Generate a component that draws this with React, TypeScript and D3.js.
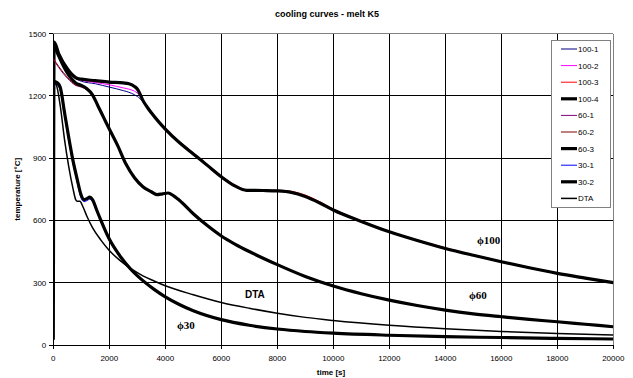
import React from "react";
import * as d3 from "d3";

const xTicks = [0, 2000, 4000, 6000, 8000, 10000, 12000, 14000, 16000, 18000, 20000];
const yTicks = [0, 300, 600, 900, 1200, 1500];

const legendNames = ["100-1", "100-2", "100-3", "100-4", "60-1", "60-2", "60-3", "30-1", "30-2", "DTA"];

// phi 100 group
const t100 = [0, 30, 200, 500, 800, 1000, 1500, 2000, 2500, 2700, 2900, 3000, 3100, 3200, 3350, 3500, 3750, 4000, 4500, 5000, 5500, 6000, 6500, 6900, 7500, 8000, 8500, 9000, 9500, 10000, 11000, 12000, 13000, 14000, 15000, 16000, 17000, 18000, 19000, 20000];
const s100_1 = [1440, 1440, 1385, 1320, 1282, 1270, 1258, 1242, 1225, 1217, 1205, 1197, 1186, 1170, 1142, 1114, 1074, 1036, 973, 918, 863, 808, 763, 744, 742, 740, 733, 713, 683, 648, 593, 543, 501, 463, 430, 399, 370, 343, 320, 298];
const s100_2 = [1445, 1445, 1392, 1325, 1285, 1275, 1264, 1253, 1238, 1232, 1222, 1213, 1199, 1175, 1145, 1117, 1076, 1038, 975, 920, 865, 810, 765, 745, 743, 741, 734, 714, 684, 649, 594, 544, 502, 464, 431, 400, 371, 344, 321, 299];
const s100_3 = [1450, 1450, 1396, 1328, 1287, 1278, 1270, 1263, 1263, 1259, 1247, 1236, 1213, 1183, 1152, 1124, 1083, 1045, 981, 926, 871, 815, 770, 748, 746, 745, 740, 722, 691, 655, 598, 548, 506, 468, 434, 403, 374, 347, 324, 302];
const s100_4 = [25, 1458, 1400, 1330, 1288, 1280, 1273, 1266, 1262, 1258, 1245, 1233, 1208, 1178, 1146, 1118, 1077, 1040, 975, 920, 865, 810, 765, 745, 744, 742, 735, 715, 685, 650, 595, 545, 503, 465, 432, 401, 372, 345, 322, 300];

// phi 60 group
const t60 = [0, 200, 500, 800, 1000, 1200, 1400, 1600, 1800, 2000, 2300, 2600, 2900, 3200, 3500, 3700, 3900, 4100, 4300, 4600, 5000, 5500, 6000, 6500, 7000, 8000, 9000, 10000, 11000, 12000, 13000, 14000, 15000, 16000, 17000, 18000, 19000, 20000];
const s60_1 = [1375, 1335, 1285, 1250, 1242, 1228, 1200, 1147, 1092, 1037, 958, 868, 803, 760, 736, 722, 726, 730, 716, 683, 630, 573, 523, 483, 448, 385, 328, 282, 245, 214, 188, 166, 148, 134, 121, 110, 98, 86];
const s60_2 = [1380, 1340, 1290, 1252, 1244, 1230, 1202, 1148, 1093, 1038, 959, 869, 804, 761, 737, 723, 727, 731, 717, 684, 631, 574, 524, 484, 449, 386, 329, 283, 246, 215, 189, 167, 149, 135, 122, 111, 99, 87];
const s60_3 = [1455, 1390, 1310, 1262, 1250, 1234, 1205, 1150, 1095, 1040, 960, 870, 805, 762, 738, 724, 728, 732, 718, 685, 632, 575, 525, 485, 450, 387, 330, 284, 247, 216, 190, 168, 150, 136, 123, 112, 100, 88];

// phi 30 group
const t30 = [50, 150, 250, 400, 550, 700, 850, 1000, 1100, 1200, 1300, 1400, 1550, 1700, 2000, 2400, 2800, 3200, 3600, 4000, 4500, 5000, 6000, 7000, 8000, 9000, 10000, 12000, 14000, 16000, 18000, 20000];
const s30_1 = [1255, 1250, 1225, 1105, 985, 875, 785, 705, 690, 695, 702, 690, 642, 592, 503, 419, 355, 305, 264, 229, 192, 162, 120, 93, 75, 63, 55, 45, 39, 35, 33, 31];
const s30_2 = [1268, 1262, 1240, 1120, 1000, 890, 800, 720, 700, 705, 712, 700, 650, 600, 510, 425, 360, 310, 268, 232, 195, 165, 122, 95, 77, 65, 57, 47, 40, 36, 32, 29];

// DTA
const tDTA = [0, 100, 250, 400, 550, 700, 800, 850, 950, 1050, 1200, 1400, 1700, 2000, 2400, 2800, 3200, 3600, 4000, 5000, 6000, 7000, 8000, 9000, 10000, 12000, 14000, 16000, 18000, 20000];
const sDTA = [1265, 1255, 1150, 990, 860, 755, 700, 692, 692, 668, 620, 565, 505, 455, 405, 365, 333, 308, 285, 242, 205, 177, 153, 133, 118, 95, 78, 65, 55, 48];

const seriesColors = ["#000080", "#FF00FF", "#FF0000", "#000000", "#800080", "#800000", "#000000", "#0000FF", "#000000", "#000000"];
const seriesWidths = [1, 1, 1, 3.2, 1, 1, 3.2, 1, 3.2, 1.5];

const W = 633, H = 378;
const left = 53.3, right = 613.3, top = 33.5, bottom = 345;

export default function App() {
  const x = d3.scaleLinear().domain([0, 20000]).range([left, right]);
  const y = d3.scaleLinear().domain([0, 1500]).range([bottom, top]);
  const line = d3.line<[number, number]>().x(d => x(d[0])).y(d => y(d[1])).curve(d3.curveMonotoneX);

  const pairs = (ts: number[], vs: number[]) => ts.map((t, i) => [t, vs[i]] as [number, number]);
  const data = [
    pairs(t100, s100_1), pairs(t100, s100_2), pairs(t100, s100_3), pairs(t100, s100_4),
    pairs(t60, s60_1), pairs(t60, s60_2), pairs(t60, s60_3),
    pairs(t30, s30_1), pairs(t30, s30_2), pairs(tDTA, sDTA),
  ];

  const legX = 551, legY = 40, legW = 59, legStep = 16.6;

  return (
    <svg width={W} height={H} style={{ position: "absolute", left: 0, top: 0, fontFamily: "'Liberation Sans', Arial, sans-serif" }}>
      <rect x={0} y={0} width={W} height={H} fill="#fff" />
      <text x={327} y={17} textAnchor="middle" fontSize={9} fontWeight="bold">cooling curves - melt K5</text>
      {xTicks.slice(1).map(t => (
        <line key={"gx" + t} x1={x(t)} x2={x(t)} y1={top} y2={bottom} stroke="#000" strokeWidth={1} shapeRendering="crispEdges" />
      ))}
      {yTicks.slice(1).map(v => (
        <line key={"gy" + v} x1={left} x2={right} y1={y(v)} y2={y(v)} stroke={v === 1500 ? "#808080" : "#000"} strokeWidth={1} shapeRendering="crispEdges" />
      ))}
      <line x1={right} x2={right} y1={top} y2={bottom} stroke="#808080" shapeRendering="crispEdges" />
      <line x1={left} x2={left} y1={top} y2={bottom} stroke="#000" shapeRendering="crispEdges" />
      <line x1={left} x2={right} y1={bottom} y2={bottom} stroke="#000" shapeRendering="crispEdges" />
      {yTicks.map(v => (
        <g key={"yt" + v}>
          <line x1={left - 4} x2={left} y1={y(v)} y2={y(v)} stroke="#000" shapeRendering="crispEdges" />
          <text x={left - 7} y={y(v) + 3} textAnchor="end" fontSize={8}>{v}</text>
        </g>
      ))}
      {xTicks.map(t => (
        <g key={"xt" + t}>
          <line x1={x(t)} x2={x(t)} y1={bottom} y2={bottom + 4} stroke="#000" shapeRendering="crispEdges" />
          <text x={x(t)} y={bottom + 16} textAnchor="middle" fontSize={8}>{t}</text>
        </g>
      ))}
      <text x={331} y={375} textAnchor="middle" fontSize={8} fontWeight="bold">time [s]</text>
      <text transform={`translate(20,${(top + bottom) / 2}) rotate(-90)`} textAnchor="middle" fontSize={8} fontWeight="bold">temperature [°C]</text>
      <defs>
        <clipPath id="clip"><rect x={left} y={top - 2} width={right - left} height={bottom - top + 2} /></clipPath>
      </defs>
      <g clipPath="url(#clip)">
        {data.map((d, i) => (
          <path key={"s" + i} d={line(d) || ""} fill="none" stroke={seriesColors[i]} strokeWidth={seriesWidths[i]} strokeLinejoin="round" />
        ))}
      </g>
      <text x={477} y={244} fontSize={11} fontWeight="bold" fontFamily="'Liberation Serif', serif">ϕ100</text>
      <text x={469} y={299} fontSize={11} fontWeight="bold" fontFamily="'Liberation Serif', serif">ϕ60</text>
      <text x={245} y={298} fontSize={10} fontWeight="bold">DTA</text>
      <text x={177} y={329} fontSize={11} fontWeight="bold" fontFamily="'Liberation Serif', serif">ϕ30</text>
      <rect x={legX} y={legY} width={legW} height={167} fill="#fff" stroke="#808080" strokeWidth={1} shapeRendering="crispEdges" />
      {legendNames.map((n, i) => (
        <g key={"lg" + n}>
          <line x1={561} x2={577} y1={legY + 9 + i * legStep} y2={legY + 9 + i * legStep} stroke={seriesColors[i]} strokeWidth={seriesWidths[i]} />
          <text x={578} y={legY + 12 + i * legStep} fontSize={8}>{n}</text>
        </g>
      ))}
    </svg>
  );
}
